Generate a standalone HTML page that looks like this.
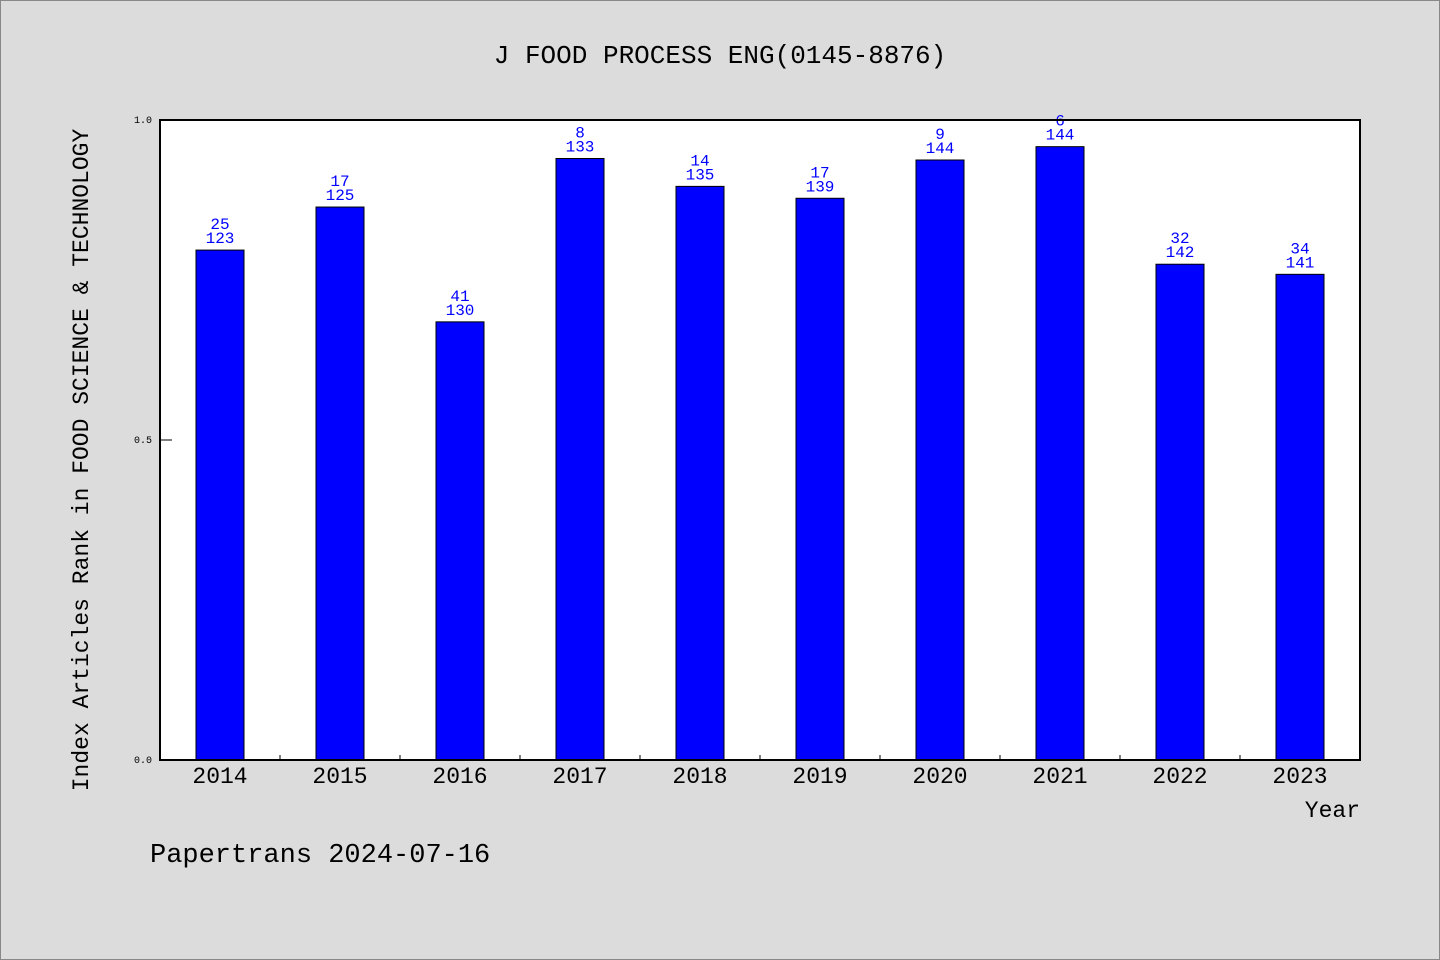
<!DOCTYPE html>
<html><head><meta charset="utf-8"><style>
body{margin:0;background:#dcdcdc;}
svg{display:block;font-family:"Liberation Mono","WenQuanYi Zen Hei",monospace;}
</style></head><body>
<svg width="1440" height="960">
<rect x="0.5" y="0.5" width="1439" height="959" fill="#dcdcdc" stroke="#888"/>
<text x="720" y="63" font-size="26" text-anchor="middle">J FOOD PROCESS ENG(0145-8876)</text>
<rect x="160" y="120" width="1200" height="640" fill="#fff"/>
<g id="bars"></g>
<rect x="160" y="120" width="1200" height="640" fill="none" stroke="#000" stroke-width="2"/>
<g id="axes" font-size="10"></g>
<text transform="translate(88,460) rotate(-90)" font-size="23" text-anchor="middle">Index Articles Rank in FOOD SCIENCE &amp; TECHNOLOGY</text>
<text x="1360" y="817" font-size="23" text-anchor="end">Year</text>
<text x="150" y="862" font-size="27">Papertrans 2024-07-16</text>
</svg>
<script>
const years=["2014","2015","2016","2017","2018","2019","2020","2021","2022","2023"];
const ranks=[25,17,41,8,14,17,9,6,32,34];
const totals=[123,125,130,133,135,139,144,144,142,141];
const yTicks=[0,0.5,1.0];
const NS="http://www.w3.org/2000/svg";
const x0=160,x1=1360,y0=760,y1=120;
const band=(x1-x0)/years.length;
const xC=i=>x0+band*(i+0.5);
const yS=v=>y0-(y0-y1)*v;
const bars=document.getElementById('bars'),axes=document.getElementById('axes');
function mk(tag,attrs,parent,txt){const e=document.createElementNS(NS,tag);for(const k in attrs)e.setAttribute(k,attrs[k]);if(txt!==undefined)e.textContent=txt;parent.appendChild(e);return e;}
years.forEach((yr,i)=>{
  const v=1-ranks[i]/totals[i];
  const b=mk('rect',{x:xC(i)-24,y:yS(v),width:48,height:y0-yS(v),fill:'#0000ff',stroke:'#000','stroke-width':1},bars);
  
  
  const t1=mk('text',{x:xC(i),y:yS(v)-21,'font-size':16,fill:'#0000ff','text-anchor':'middle'},bars,String(ranks[i]));
  
  
  const t2=mk('text',{x:xC(i),y:yS(v)-7,'font-size':16,fill:'#0000ff','text-anchor':'middle'},bars,String(totals[i]));
  
  
  const xl=mk('text',{x:xC(i),y:783,'font-size':23,'text-anchor':'middle'},axes,yr);
  
  
  if(i>0){const tk=mk('line',{x1:x0+band*i,x2:x0+band*i,y1:y0,y2:y0-5,stroke:'#000'},axes);
  
  }
});
yTicks.forEach(v=>{
  const tk=mk('line',{x1:x0,x2:x0+12,y1:yS(v),y2:yS(v),stroke:'#000'},axes);
  
  
  const tl=mk('text',{x:x0-8,y:yS(v)+3,'font-size':10,'text-anchor':'end'},axes,v.toFixed(1));
  
  
});
</script>
</body></html>
